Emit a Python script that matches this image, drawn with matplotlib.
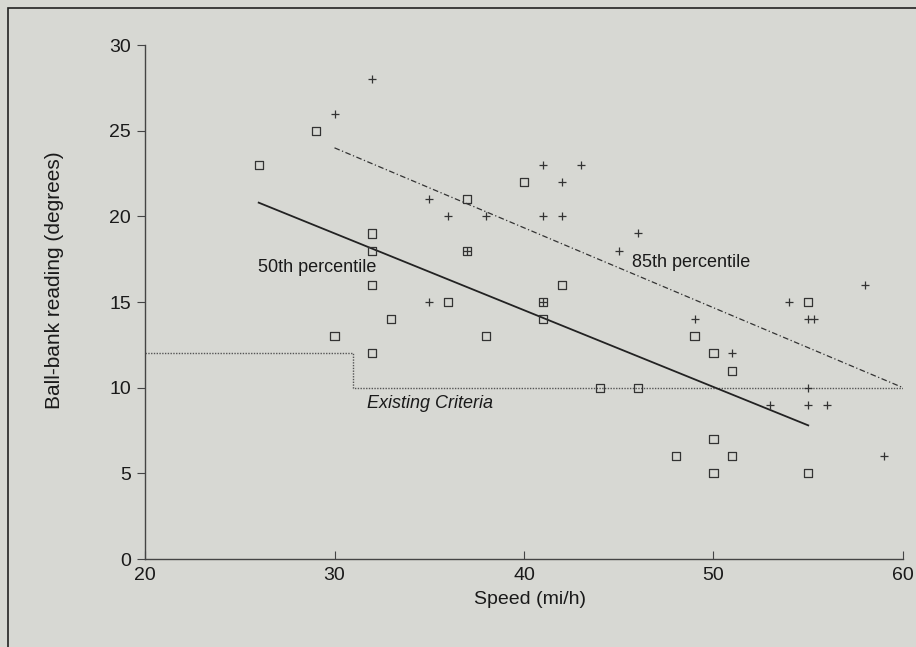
import matplotlib.pyplot as plt
from matplotlib.patches import Rectangle

# observed ball-bank readings
square_speed = [26, 29, 30, 32, 32, 32, 32, 33, 36, 37, 37, 38, 40, 41, 41, 42,
                44, 46, 48, 49, 50, 50, 50, 51, 51, 55, 55]
square_deg = [23, 25, 13, 19, 18, 16, 12, 14, 15, 21, 18, 13, 22, 15, 14, 16,
              10, 10, 6, 13, 12, 7, 5, 11, 6, 15, 5]

plus_speed = [30, 32, 35, 36, 38, 35, 37, 41, 43, 41, 42, 42, 41, 45, 46, 49,
              51, 53, 54, 55, 55.3, 55, 55, 56, 58, 59]
plus_deg = [26, 28, 21, 20, 20, 15, 18, 23, 23, 20, 22, 20, 15, 18, 19, 14,
            12, 9, 15, 14, 14, 10, 9, 9, 16, 6]

# fitted percentile lines and existing criteria
p50_speed = [26, 55]
p50_deg = [20.8, 7.8]
p85_speed = [30, 60]
p85_deg = [24, 10]
crit_speed = [20, 31, 31, 60]
crit_deg = [12, 12, 10, 10]

bg = '#d7d8d3'
ink = '#1a1a1a'
plt.rcParams['font.family'] = ['Liberation Sans', 'DejaVu Sans']

fig = plt.figure(figsize=(9.16, 6.47), dpi=100, facecolor=bg)
ax = fig.add_axes([0.1583, 0.136, 0.8275, 0.7944])
ax.set_facecolor(bg)

# page frame (scanned box edges)
fig.patches.append(Rectangle((0.009, -0.05), 1.2, 1.037, transform=fig.transFigure,
                             fill=False, edgecolor='#222222', linewidth=1.2))

ax.plot(crit_speed, crit_deg, linestyle=(0, (1, 1)), color='#555555', linewidth=1.0)
ax.plot(p50_speed, p50_deg, color='#222222', linewidth=1.3)
ax.plot(p85_speed, p85_deg, linestyle=(0, (4.5, 2, 1, 2)), color='#333333', linewidth=0.9)

ax.scatter(square_speed, square_deg, marker='s', s=34, facecolors='none',
           edgecolors='#333333', linewidths=0.9, zorder=3)
ax.scatter(plus_speed, plus_deg, marker='+', s=28, color='#333333',
           linewidths=0.9, zorder=3)

ax.text(25.95, 17.0, '50th percentile', fontsize=13, va='center', ha='left', color=ink)
ax.text(45.7, 17.3, '85th percentile', fontsize=13, va='center', ha='left', color=ink)
ax.text(31.7, 9.1, 'Existing Criteria', fontsize=13, va='center', ha='left',
        style='italic', color=ink)

ax.set_xlim(20, 60)
ax.set_ylim(0, 30)
ax.set_xticks([20, 30, 40, 50, 60])
ax.set_yticks([0, 5, 10, 15, 20, 25, 30])
for s in ['top', 'right']:
    ax.spines[s].set_visible(False)
for s in ['left', 'bottom']:
    ax.spines[s].set_color('#444444')
    ax.spines[s].set_linewidth(1.0)
ax.tick_params(axis='y', direction='out', length=6, labelsize=14, colors='#444444',
               labelcolor=ink, pad=4)
ax.tick_params(axis='x', direction='in', length=6, labelsize=14, colors='#444444',
               labelcolor=ink, pad=6)

fig.text(530 / 916, 1 - 600 / 647, 'Speed (mi/h)', fontsize=14, color=ink,
         ha='center', va='center')
fig.text(55 / 916, 1 - 280 / 647, 'Ball-bank reading (degrees)', fontsize=15,
         color=ink, ha='center', va='center', rotation=90)

fig.savefig('out.png', dpi=100, facecolor=bg)
